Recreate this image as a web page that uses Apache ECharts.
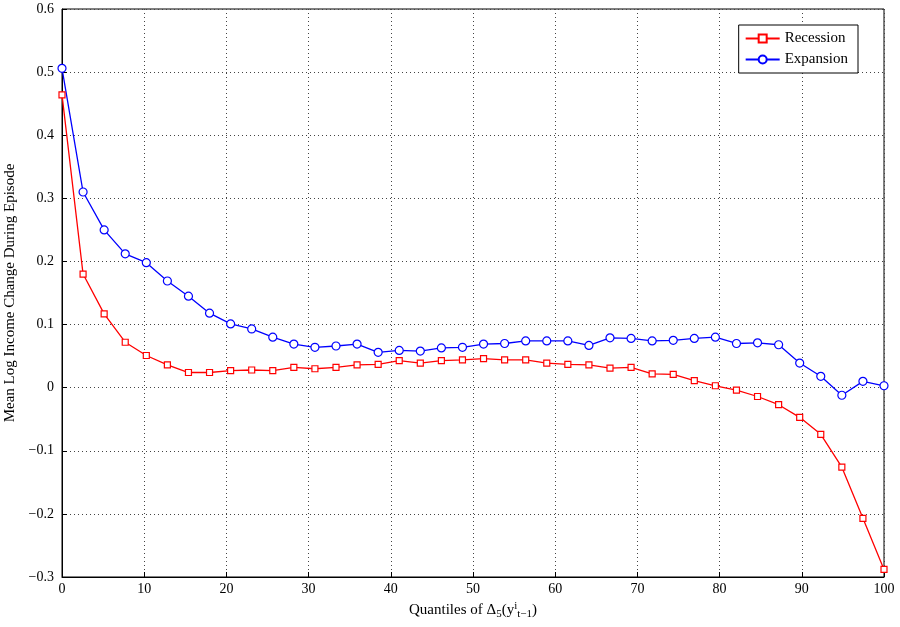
<!DOCTYPE html>
<html><head><meta charset="utf-8">
<script src="https://cdn.jsdelivr.net/npm/echarts@6/dist/echarts.min.js"></script>
<style>html,body{margin:0;background:#fff}#c{width:900px;height:627px}</style>
</head><body><div id="c"></div>
<script>
// quantile values, 40 points evenly from 0 to 100
const recession = [0.464,0.18,0.117,0.072,0.051,0.036,0.024,0.024,0.027,0.028,0.027,0.032,0.030,0.032,0.036,0.037,0.043,0.039,0.043,0.044,0.046,0.044,0.044,0.039,0.037,0.036,0.031,0.032,0.022,0.021,0.011,0.003,-0.004,-0.014,-0.027,-0.047,-0.074,-0.126,-0.207,-0.288];
const expansion = [0.506,0.31,0.25,0.212,0.198,0.169,0.145,0.118,0.101,0.093,0.080,0.069,0.064,0.066,0.069,0.056,0.059,0.058,0.063,0.064,0.069,0.070,0.074,0.074,0.074,0.067,0.079,0.078,0.074,0.075,0.078,0.080,0.070,0.071,0.068,0.039,0.018,-0.012,0.010,0.003];
const quantiles = recession.map((_, i) => i * 100 / (recession.length - 1));

const font = 'Liberation Serif, DejaVu Serif, serif';
const grid = {show: true, lineStyle: {type: [1, 3], color: '#444'}};
const chart = echarts.init(document.getElementById('c'));
chart.setOption({
  animation: false,
  textStyle: {fontFamily: font},
  grid: {left: 62, right: 16, top: 9, bottom: 50, outerBoundsMode: 'none', show: true, borderColor: '#000', borderWidth: 1},
  legend: {
    top: 25, right: 42, orient: 'vertical', itemGap: 6,
    backgroundColor: '#fff', borderColor: '#000', borderWidth: 1, padding: [6, 10, 6, 6],
    itemWidth: 34, itemHeight: 10,
    textStyle: {fontFamily: font, fontSize: 15, color: '#000'},
    data: ['Recession', 'Expansion']
  },
  xAxis: {
    type: 'value', min: 0, max: 100, interval: 10,
    name: '{a|Quantiles of Δ}{s|5}{a|(y}{s2|i}{s|t−1}{a|)}', nameLocation: 'middle', nameGap: 22,
    nameTextStyle: {rich: {
      a: {fontFamily: font, fontSize: 15, color: '#000'},
      s: {fontFamily: font, fontSize: 11, color: '#000', verticalAlign: 'bottom', padding: [8, 0, 0, 0]},
      s2: {fontFamily: font, fontSize: 11, color: '#000', verticalAlign: 'top', padding: [0, 0, 8, 0]}
    }},
    axisLine: {onZero: false, lineStyle: {color: '#000'}}, axisTick: {inside: true, lineStyle: {color: '#000'}},
    axisLabel: {fontFamily: font, fontSize: 14, color: '#000', margin: 5},
    splitLine: grid
  },
  yAxis: {
    type: 'value', min: -0.3, max: 0.6, interval: 0.1,
    name: 'Mean Log Income Change During Episode', nameLocation: 'middle', nameGap: 40,
    nameTextStyle: {fontFamily: font, fontSize: 15, color: '#000'},
    axisLine: {lineStyle: {color: '#000'}}, axisTick: {inside: true, lineStyle: {color: '#000'}},
    axisLabel: {fontFamily: font, fontSize: 14, color: '#000', formatter: v => (+v.toFixed(1) + '').replace('-', '−')},
    splitLine: grid
  },
  series: [
    {name: 'Recession', type: 'line', data: quantiles.map((q, i) => [q, recession[i]]),
     symbol: 'rect', symbolSize: 6, lineStyle: {width: 1.3, color: '#f00'},
     itemStyle: {color: '#fff', borderColor: '#f00', borderWidth: 1.2}},
    {name: 'Expansion', type: 'line', data: quantiles.map((q, i) => [q, expansion[i]]),
     symbol: 'circle', symbolSize: 8, lineStyle: {width: 1.3, color: '#00f'},
     itemStyle: {color: '#fff', borderColor: '#00f', borderWidth: 1.2}}
  ]
});
</script></body></html>
